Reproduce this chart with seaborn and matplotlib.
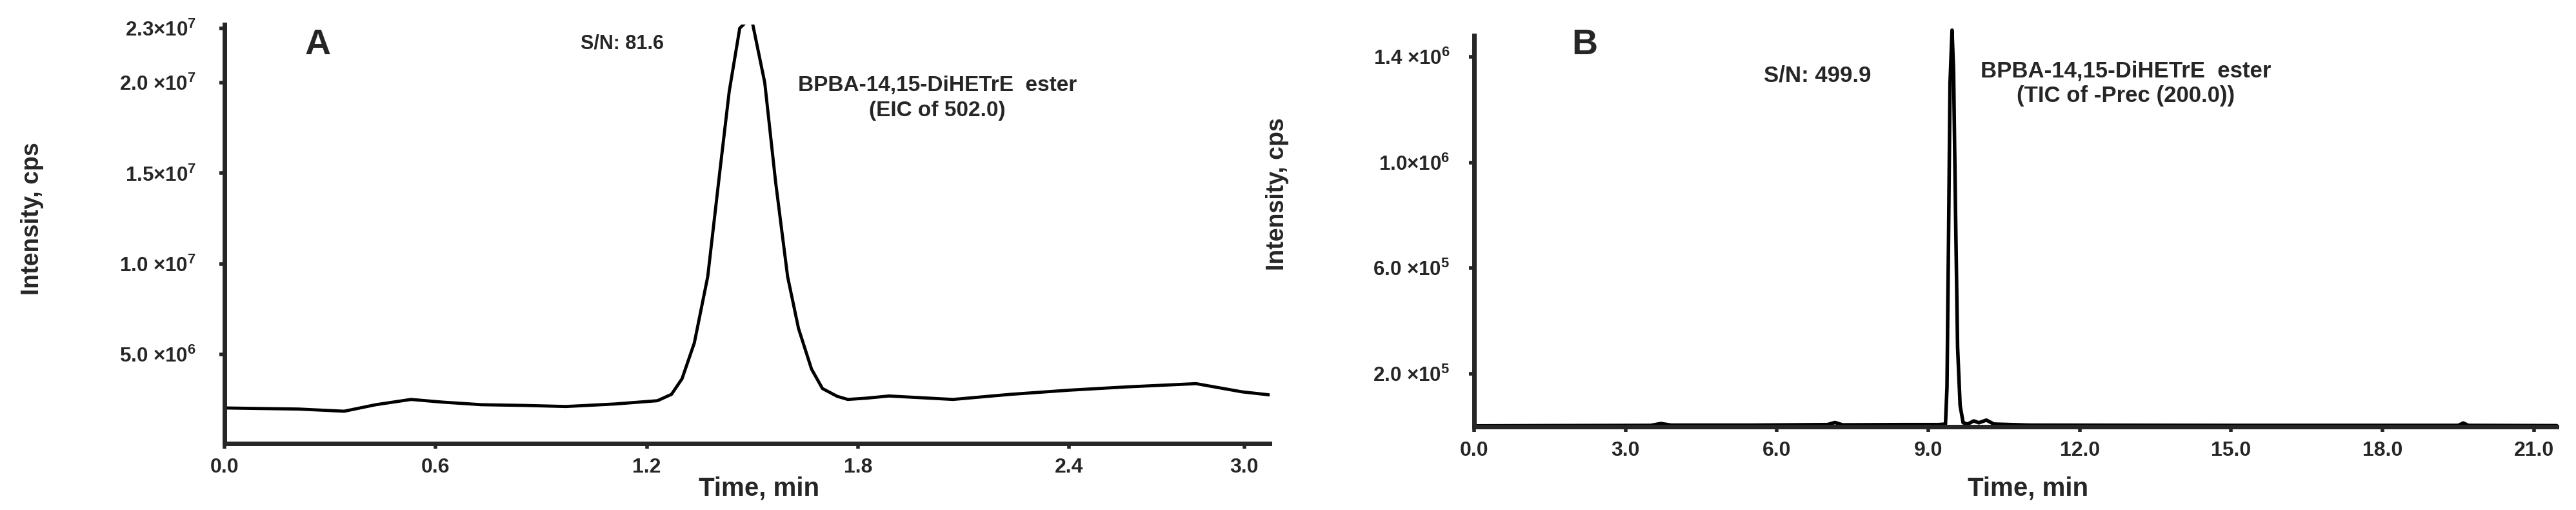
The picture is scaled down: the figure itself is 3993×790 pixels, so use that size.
import numpy as np
import pandas as pd
import matplotlib
matplotlib.use('Agg')
import matplotlib.pyplot as plt
import seaborn as sns

# Panel A - EIC of 502.0 (time in min, intensity in cps)
a_time = [0.00, 0.10, 0.21, 0.34, 0.43, 0.53, 0.62, 0.73, 0.85, 0.97, 1.11, 1.23,
          1.27, 1.30, 1.335, 1.373, 1.408, 1.434, 1.464, 1.48, 1.50, 1.535, 1.566,
          1.60, 1.631, 1.668, 1.699, 1.741, 1.771, 1.824, 1.888, 2.07, 2.233, 2.40,
          2.596, 2.835, 2.992, 3.087]
a_int = [2.06e6, 2.03e6, 2.00e6, 1.88e6, 2.24e6, 2.53e6, 2.38e6, 2.24e6, 2.20e6, 2.14e6,
         2.28e6, 2.46e6, 2.81e6, 3.67e6, 5.65e6, 9.3e6, 15.2e6, 19.5e6, 23.0e6, 23.3e6,
         23.3e6, 20.0e6, 14.5e6, 9.3e6, 6.44e6, 4.2e6, 3.13e6, 2.70e6, 2.53e6, 2.60e6,
         2.72e6, 2.53e6, 2.81e6, 3.04e6, 3.22e6, 3.40e6, 2.95e6, 2.78e6]
a_xticks = [0.0, 0.6, 1.2, 1.8, 2.4, 3.0]
a_xtick_labels = ['0.0', '0.6', '1.2', '1.8', '2.4', '3.0']
a_yticks = [5.0e6, 1.0e7, 1.5e7, 2.0e7, 2.3e7]
a_ytick_labels = ['5.0 ×10$^{6}$', '1.0 ×10$^{7}$', '1.5×10$^{7}$', '2.0 ×10$^{7}$', '2.3×10$^{7}$']

# Panel B - TIC of -Prec (200.0)
b_time = [0.0, 1.5, 3.5, 3.7, 3.9, 5.5, 7.0, 7.15, 7.3, 8.5, 9.2, 9.34, 9.37, 9.40,
          9.43, 9.47, 9.50, 9.54, 9.58, 9.63, 9.69, 9.78, 9.9, 10.0, 10.15, 10.3, 11.0,
          15.0, 19.5, 19.6, 19.7, 21.45]
b_int = [3e3, 4e3, 5e3, 1.2e4, 6e3, 6e3, 8e3, 1.6e4, 7e3, 8e3, 8e3, 1.0e4, 1.5e5, 7.0e5,
         1.30e6, 1.50e6, 1.35e6, 8.0e5, 3.0e5, 8e4, 1.5e4, 1.0e4, 2.2e4, 1.5e4, 2.5e4, 1.0e4,
         6e3, 5e3, 5e3, 1.4e4, 5e3, 4e3]
b_xticks = [0.0, 3.0, 6.0, 9.0, 12.0, 15.0, 18.0, 21.0]
b_xtick_labels = ['0.0', '3.0', '6.0', '9.0', '12.0', '15.0', '18.0', '21.0']
b_yticks = [2.0e5, 6.0e5, 1.0e6, 1.4e6]
b_ytick_labels = ['2.0 ×10$^{5}$', '6.0 ×10$^{5}$', '1.0×10$^{6}$', '1.4 ×10$^{6}$']

sns.set_style('ticks')
plt.rcParams['font.family'] = ['Liberation Sans', 'DejaVu Sans']
plt.rcParams['font.weight'] = 'bold'
plt.rcParams['mathtext.fontset'] = 'custom'
plt.rcParams['mathtext.rm'] = 'Liberation Sans:bold'
plt.rcParams['mathtext.bf'] = 'Liberation Sans:bold'

W, H = 3993, 790
fig = plt.figure(figsize=(W / 100, H / 100), dpi=100)


def px_axes(left, right, bottom, top):
    # pixel box -> figure fraction
    return fig.add_axes([left / W, 1 - bottom / H, (right - left) / W, (bottom - top) / H])


# the A time axis is squeezed after 2.4 min in the original figure
def fwd(x):
    x = np.asarray(x, dtype=float)
    return np.where(x <= 2.4, x, 2.4 + (x - 2.4) * 0.829)


def inv(y):
    y = np.asarray(y, dtype=float)
    return np.where(y <= 2.4, y, 2.4 + (y - 2.4) / 0.829)


def style_axes(ax, lw):
    sns.despine(ax=ax)
    for s in ['left', 'bottom']:
        ax.spines[s].set_linewidth(lw)
    ax.tick_params(axis='both', length=6, width=4, direction='out')
    ax.tick_params(axis='x', labelsize=23, pad=10)
    ax.set_xlabel('')
    ax.set_ylabel('')


# ---- Panel A
ax1 = px_axes(348, 1968, 687, 38)
df_a = pd.DataFrame({'time': a_time, 'intensity': a_int})
sns.lineplot(data=df_a, x='time', y='intensity', ax=ax1, color='black', lw=3.5)
ax1.set_xscale('function', functions=(fwd, inv))
ax1.set_xlim(0, 3.087)
ax1.set_ylim(1e5, 2.32e7)
ax1.set_xticks(a_xticks)
ax1.set_xticklabels(a_xtick_labels)
ax1.set_yticks(a_yticks)
ax1.set_yticklabels(a_ytick_labels)
style_axes(ax1, 5)
ax1.tick_params(axis='y', labelsize=22.5, pad=26)

# ---- Panel B
ax2 = px_axes(2285, 3963, 661, 55)
df_b = pd.DataFrame({'time': b_time, 'intensity': b_int})
sns.lineplot(data=df_b, x='time', y='intensity', ax=ax2, color='black', lw=4)
for ln in ax2.lines:
    ln.set_clip_on(False)
ax2.set_xlim(0, 21.45)
ax2.set_ylim(0, 1.48e6)
ax2.set_xticks(b_xticks)
ax2.set_xticklabels(b_xtick_labels)
ax2.set_yticks(b_yticks)
ax2.set_yticklabels(b_ytick_labels)
style_axes(ax2, 5)
ax2.tick_params(axis='y', labelsize=22.5, pad=21)


def ptext(x, y, s, **kw):
    fig.text(x / W, 1 - y / H, s, ha='center', va='center', fontweight='bold', **kw)


ptext(493, 70, 'A', fontsize=40)
ptext(964, 68, 'S/N: 81.6', fontsize=22)
ptext(1453, 152, 'BPBA-14,15-DiHETrE  ester\n(EIC of 502.0)', fontsize=24, linespacing=1.3)
ptext(1177, 756, 'Time, min', fontsize=29)
ptext(50, 339, 'Intensity, cps', fontsize=27, rotation=90)

ptext(2456, 70, 'B', fontsize=40)
ptext(2817, 117, 'S/N: 499.9', fontsize=25)
ptext(3295, 129, 'BPBA-14,15-DiHETrE  ester\n(TIC of -Prec (200.0))', fontsize=25, linespacing=1.2)
ptext(3144, 756, 'Time, min', fontsize=29)
ptext(1980, 301, 'Intensity, cps', fontsize=27, rotation=90)

fig.savefig('out.png', dpi=100, facecolor='white')
